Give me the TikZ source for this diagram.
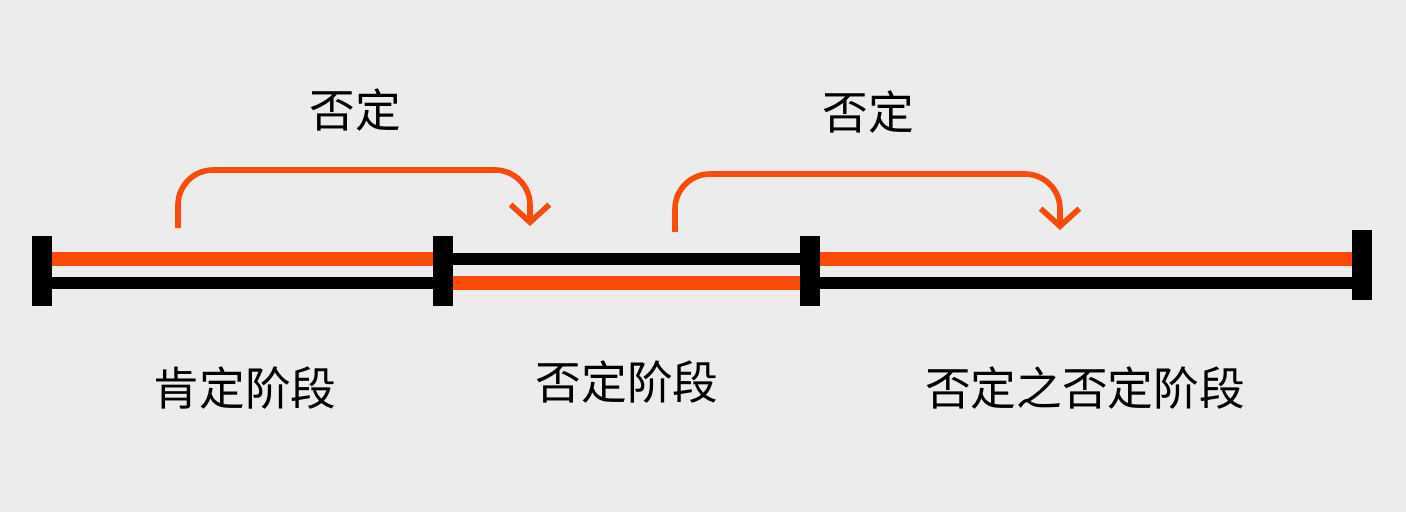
\documentclass[tikz,border=0pt]{standalone}
\usepackage{fontspec}
\newfontfamily\cjk{Noto Sans CJK SC}
\usetikzlibrary{positioning,arrows.meta}
\definecolor{barOrange}{RGB}{250,75,10}
\definecolor{paperGray}{RGB}{236,236,236}
\tikzstyle{stage} = [x = .01cm, y = -.01cm]
\tikzstyle{orangeBar} = [color=barOrange, line width=4.2pt]
\tikzstyle{blackBar} = [color=black, line width=3.6pt]
\tikzstyle{tick} = [color=black, line width=5.5pt]
\tikzstyle{jump} = [color=barOrange, line width=1.6pt, rounded corners=.35cm, -{Straight Barb[length=5pt,width=11pt]}]
\tikzstyle{label} = [font=\cjk\fontsize{13}{15}\selectfont]
\begin{document}
\begin{tikzpicture}[stage]
  \fill [paperGray] (0,0) rectangle (1406,512);
  % bars
  \draw [orangeBar] (42,259) -- (443,259);
  \draw [blackBar] (42,283) -- (443,283);
  \draw [blackBar] (443,259) -- (810,259);
  \draw [orangeBar] (443,283) -- (810,283);
  \draw [orangeBar] (810,259) -- (1362,259);
  \draw [blackBar] (810,283) -- (1362,283);
  % ticks
  \foreach \x/\top/\bot in {42/236/306, 443/236/306, 810/236/306, 1362/230/300}
    \draw [tick] (\x,\top) -- (\x,\bot);
  % jumps
  \coordinate (startA) at (178,228);
  \coordinate (endA) at (530,226);
  \coordinate (startB) at (675,232);
  \coordinate (endB) at (1060,230);
  \draw [jump] (startA) -- (178,170) -- (530,170) -- (endA);
  \draw [jump] (startB) -- (675,174) -- (1060,174) -- (endB);
  % labels
  \node [label] (negA) at (355,110) {否定};
  \node [label] (negB) at (868,112) {否定};
  \node [label] (thesis) at (245,388) {肯定阶段};
  \node [label] (antithesis) at (627,382) {否定阶段};
  \node [label] (synthesis) at (1085,388) {否定之否定阶段};
\end{tikzpicture}
\end{document}
